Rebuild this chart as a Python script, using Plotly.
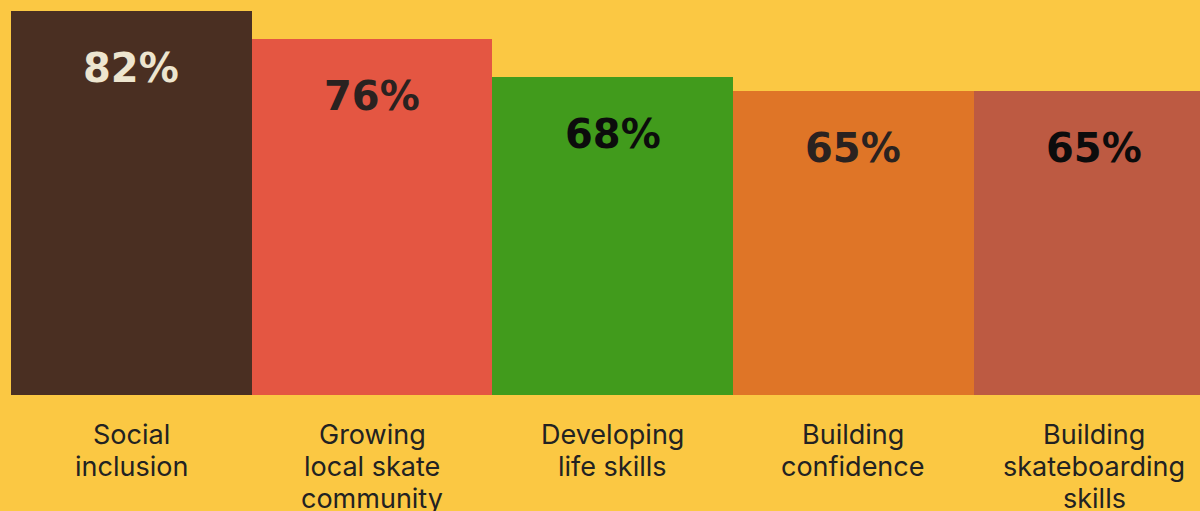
import plotly.graph_objects as go

categories = ["Social<br>inclusion", "Growing<br>local skate<br>community", "Developing<br>life skills",
              "Building<br>confidence", "Building<br>skateboarding<br>skills"]
values = [82, 76, 68, 65, 65]
bar_colors = ["#4A2F22", "#E45642", "#419B1C", "#DF7527", "#BD5A42"]
value_colors = ["#EDE5CF", "#2A2220", "#0C0C0C", "#2A2220", "#0C0C0C"]

BG = "#FBC843"
x = list(range(len(values)))

fig = go.Figure(go.Bar(
    x=x, y=values, marker=dict(color=bar_colors, line=dict(width=0)),
    hoverinfo="skip",
))

annotations = []
# percentage labels inside each bar, a fixed distance below its top
for xi, v, c in zip(x, values, value_colors):
    annotations.append(dict(
        x=xi, y=v, xref="x", yref="y", text=f"{v}%", showarrow=False,
        yanchor="middle", yshift=-57,
        font=dict(family="DejaVu Sans", size=40, color=c, weight="bold"),
    ))
# category names under the bars, one annotation per line for tight spacing
LINE_GAP = 32
for xi, cat in zip(x, categories):
    for i, line in enumerate(cat.split("<br>")):
        annotations.append(dict(
            x=xi, y=0, xref="x", yref="paper", text=line, showarrow=False,
            yanchor="middle", yshift=-39 - i * LINE_GAP,
            font=dict(family="Inter", size=27, color="#222222"),
        ))

fig.update_layout(
    width=1200, height=511,
    margin=dict(l=11, r=0, t=0, b=116),
    paper_bgcolor=BG, plot_bgcolor=BG,
    bargap=0, showlegend=False,
    xaxis=dict(range=[-0.5, 4.44], visible=False, fixedrange=True),
    yaxis=dict(range=[0, 84.35], visible=False, fixedrange=True),
    annotations=annotations,
)

fig.write_html("out.html", config={"displayModeBar": False})
